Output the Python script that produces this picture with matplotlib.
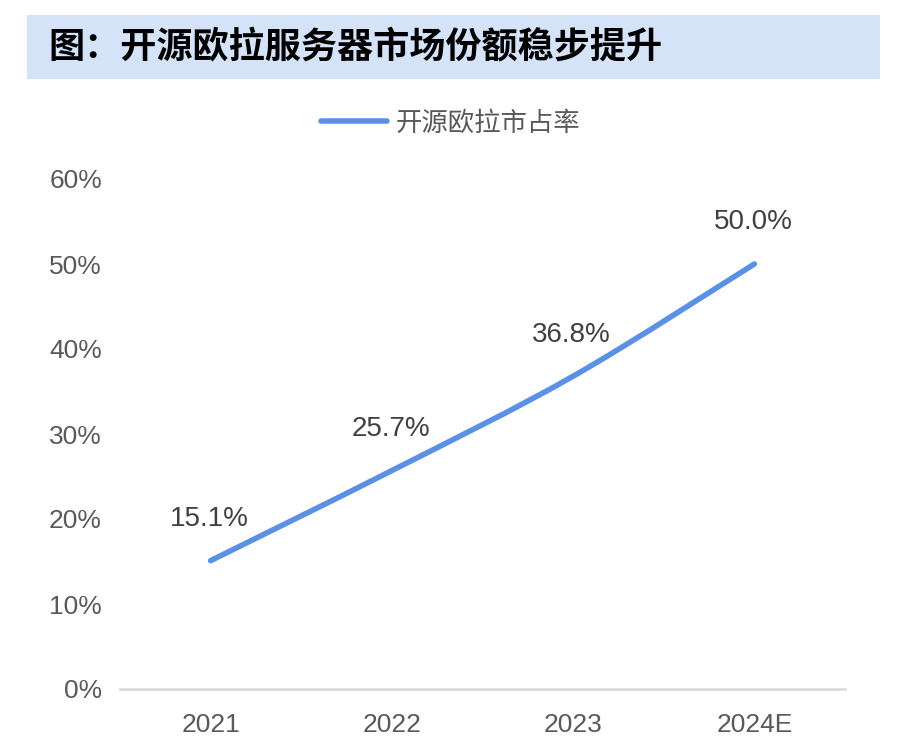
import numpy as np
import matplotlib.pyplot as plt
from matplotlib.path import Path
from matplotlib.patches import PathPatch, Rectangle
from matplotlib.lines import Line2D

# data
years = ["2021", "2022", "2023", "2024E"]
share = [0.151, 0.257, 0.368, 0.500]
share_labels = ["15.1%", "25.7%", "36.8%", "50.0%"]
yticks = [0.0, 0.1, 0.2, 0.3, 0.4, 0.5, 0.6]

title = "图：开源欧拉服务器市场份额稳步提升"
series_name = "开源欧拉市占率"

plt.rcParams['font.family'] = ['Liberation Sans', 'Noto Sans CJK SC', 'DejaVu Sans']
line_color = "#5B91E4"
grey = "#595959"

fig = plt.figure(figsize=(9.01, 7.48), dpi=100)

# title bar
fig.patches.append(Rectangle((27/901, 1-79/748), 853/901, 64/748,
                             transform=fig.transFigure, fc="#D5E3F8", ec="none"))
fig.text(48/901, 1-47/748, title, fontsize=26, fontweight="bold", color="black",
         va="center", ha="left", family=['Noto Sans CJK SC', 'DejaVu Sans'])

ax = fig.add_axes([120/901, 1-689/748, 725/901, 510/748])

# smooth line (excel style bezier through the points)
x = np.arange(len(years))
pts = np.column_stack([x, share])
ext = np.vstack([pts[0], pts, pts[-1]])
verts = [tuple(pts[0])]
codes = [Path.MOVETO]
for i in range(len(pts) - 1):
    p0, p1, p2, p3 = ext[i], ext[i+1], ext[i+2], ext[i+3]
    c1 = p1 + (p2 - p0) / 6
    c2 = p2 - (p3 - p1) / 6
    verts += [tuple(c1), tuple(c2), tuple(p2)]
    codes += [Path.CURVE4] * 3
ax.add_patch(PathPatch(Path(verts, codes), fill=False, ec=line_color, lw=4,
                       capstyle="round", zorder=3))

for xi, v, lab in zip(x, share, share_labels):
    ax.annotate(lab, (xi, v), xytext=(-1, 30), textcoords="offset points",
                ha="center", va="center", fontsize=20, color="#404040")

ax.set_xlim(-0.5, 3.5)
ax.set_ylim(0, 0.6)
ax.set_xticks(x)
ax.set_xticklabels(years)
ax.set_yticks(yticks)
ax.set_yticklabels([f"{v:.0%}" for v in yticks])
ax.tick_params(axis="both", length=0, labelsize=19, labelcolor=grey)
ax.tick_params(axis="y", pad=13)
ax.tick_params(axis="x", pad=17)
for s in ["top", "left", "right"]:
    ax.spines[s].set_visible(False)
ax.spines["bottom"].set_color("#D9D9D9")
ax.spines["bottom"].set_linewidth(1.8)

handle = Line2D([], [], color=line_color, lw=4, solid_capstyle="round")
fig.legend([handle], [series_name], loc="center", bbox_to_anchor=(0.5, 1-123/748),
           frameon=False, fontsize=19, handlelength=2.5, handletextpad=0.3,
           labelcolor=grey)

fig.savefig("out.png", dpi=100)
